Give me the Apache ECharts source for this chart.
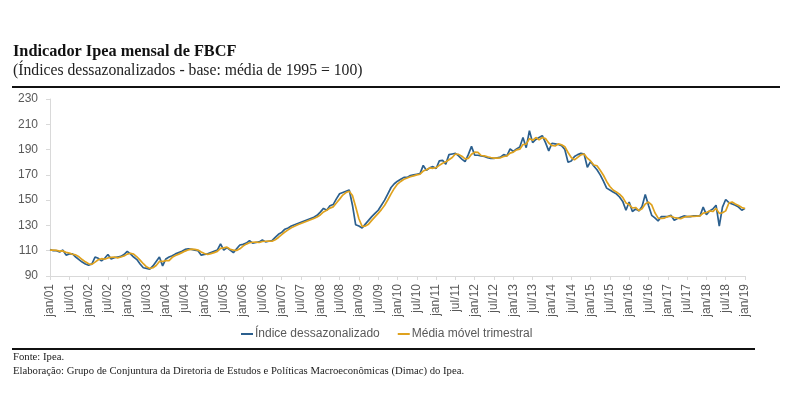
<!DOCTYPE html>
<html>
<head>
<meta charset="utf-8">
<script src="https://cdn.jsdelivr.net/npm/echarts@6/dist/echarts.min.js"></script>
<style>
html,body{margin:0;padding:0;background:#fff;}
#c{width:785px;height:395px;}
</style>
</head>
<body>
<div id="c"></div>
<script>
const monthNames = ['jan','fev','mar','abr','mai','jun','jul','ago','set','out','nov','dez'];
const years = ['01','02','03','04','05','06','07','08','09','10','11','12','13','14','15','16','17','18','19'];
const categories = [];
years.forEach(function(y, yi){
  monthNames.forEach(function(m, mi){
    if (yi === years.length - 1 && mi > 0) return;
    categories.push(m + '/' + y);
  });
});
const yTicks = [90, 110, 130, 150, 170, 190, 210, 230];

const indiceDessaz = [
111,110,110,109,110.5,106.5,107.5,107.5,105,103,101,99.5,
98.5,99.5,105,104,102,104,107,103.5,104.5,105,105.5,107,
109.5,107.5,105,103,99.5,96.5,96,95.5,98,101.5,105,98,
103.5,105,106,107.5,108.5,109.5,111,111.5,111,110.5,110,106.5,
107,107.5,108.5,109.5,110.5,115.5,110.5,112.5,110.5,108.5,111.5,114.5,
115,116,118,116,116.5,117,118.5,117,117.5,118,120.5,123,
124.5,127,128,129.5,130.5,131.5,132.5,133.5,134.5,135.5,136.5,138,
140.5,143.5,142,145.5,146.5,151,155,156,157,158,146,130.5,
129.5,128,131,134,137,139.5,142,146,150,155,160,163,
165,166.5,168,168,169.5,170,170.5,171,177.5,173.5,175.5,176.5,
175,181,181.5,178.5,186,186.5,187,185,182.5,180.5,186,192.5,
185.5,185.5,185,184.5,183.5,183,183,183.5,184,186,185,190.5,
188.5,190.5,192,199.5,191.5,205,195.5,198,199.5,201,195.5,189,
195,194.5,194,193,190,180,181,184.5,186,187,186.5,176,
180.5,177,174,170,165,159.5,158,156.5,155,152.5,149,142,
148.5,141,143,141.5,145,154.5,146,138,136,133.5,137,137,
137,138,134,135.5,136.5,137.5,137,137,137.5,137.5,137.5,144.5,
138.5,141.5,143,146,129.5,144.5,150.5,148,147,146,144.5,142,
143.5
];

const mediaMovel = [
110.5,110.5,110.3,109.7,109.8,108.7,108.2,107.2,106.7,105.2,103,101.2,
99.7,99.2,101,102.8,103.7,103.3,104.3,104.8,105,104.3,105,105.8,
107.3,108,107.3,105.2,102.5,99.7,97.3,96,96.5,98.3,101.5,101.5,
102.2,102.2,104.8,106.2,107.3,108.5,109.7,110.7,111.2,111,110.5,109,
107.8,107,107.7,108.5,109.5,111.8,112.2,112.8,111.2,110.5,110.2,111.5,
113.7,115.2,116.3,116.7,116.8,116.5,117.3,117.5,117.7,117.5,118.7,120.5,
122.7,124.8,126.5,128.2,129.3,130.5,131.5,132.5,133.5,134.5,135.5,136.7,
138.3,140.7,142,143.7,144.7,147.7,150.8,154,156,157,153.7,144.8,
135.3,129.3,129.5,131,134,136.8,139.5,142.5,146,150.3,155,159.3,
162.7,164.8,166.5,167.5,168.5,169.2,170,170.5,173,174,175.5,175.2,
175.7,177.5,179.2,180.3,182,183.7,186.5,186.2,184.8,182.7,183,186.3,
188,187.8,185.3,185,184.3,183.7,183.2,183.2,183.5,184.5,185,187.2,
188,189.8,190.3,194,194.3,198.7,197.3,199.5,197.7,199.5,198.7,195.2,
193.2,192.8,194.5,193.8,192.3,187.7,183.7,181.8,183.8,185.8,186.5,183.2,
181,177.8,177.2,173.7,169.7,164.8,160.8,158,156.5,154.7,152.2,147.8,
146.5,143.8,144.2,141.8,143.2,147,148.5,146.2,140,135.8,135.5,135.8,
137,137.3,136.3,135.8,135.3,136.5,137,137.2,137.2,137.3,137.5,139.8,
140.2,141.5,141,143.5,139.5,140,141.5,147.7,148.5,147,145.8,144.2,
143.3
];

const chart = echarts.init(document.getElementById('c'), null, {renderer:'canvas'});
const serif = '"Liberation Serif", "DejaVu Serif", serif';
const sans = '"Liberation Sans", Arial, sans-serif';
chart.setOption({
  animation: false,
  backgroundColor: '#ffffff',
  grid: {left: 50, right: 40, top: 99, bottom: 119, containLabel: false},
  xAxis: {
    type: 'category',
    data: categories,
    boundaryGap: false,
    axisLine: {show: true, lineStyle: {color: '#d9d9d9', width: 1}},
    axisTick: {show: true, interval: 5, length: 4, lineStyle: {color: '#d9d9d9'}},
    axisLabel: {interval: 5, rotate: 90, color: '#595959', fontFamily: sans, fontSize: 12, margin: 8},
    splitLine: {show: false}
  },
  yAxis: {
    type: 'value',
    min: yTicks[0],
    max: yTicks[yTicks.length - 1],
    interval: 20,
    axisLine: {show: true, lineStyle: {color: '#d9d9d9', width: 1}},
    axisTick: {show: true, length: 4, lineStyle: {color: '#d9d9d9'}},
    axisLabel: {color: '#595959', fontFamily: sans, fontSize: 12, margin: 12},
    splitLine: {show: false}
  },
  legend: {
    data: ['Índice dessazonalizado', 'Média móvel trimestral'],
    left: 236,
    top: 323,
    itemWidth: 12,
    itemHeight: 2,
    itemGap: 18,
    icon: 'rect',
    textStyle: {color: '#595959', fontFamily: sans, fontSize: 12, padding: [0, 0, 0, -3]}
  },
  series: [
    {
      name: 'Índice dessazonalizado',
      type: 'line',
      data: indiceDessaz,
      symbol: 'none',
      lineStyle: {color: '#2b5f8e', width: 1.7},
      itemStyle: {color: '#2b5f8e'}
    },
    {
      name: 'Média móvel trimestral',
      type: 'line',
      data: mediaMovel,
      symbol: 'none',
      lineStyle: {color: '#dfa21e', width: 1.7},
      itemStyle: {color: '#dfa21e'}
    }
  ],
  graphic: [
    {type: 'text', left: 13, top: 44, style: {text: 'Indicador Ipea mensal de FBCF', font: 'bold 16.3px ' + serif, fill: '#111'}},
    {type: 'text', left: 13, top: 63, style: {text: '(Índices dessazonalizados - base: média de 1995 = 100)', font: '15.7px ' + serif, fill: '#222'}},
    {type: 'rect', shape: {x: 12, y: 86, width: 768, height: 2}, style: {fill: '#111'}},
    {type: 'rect', shape: {x: 12, y: 348, width: 743, height: 2}, style: {fill: '#111'}},
    {type: 'text', left: 13, top: 352, style: {text: 'Fonte: Ipea.', font: '10.7px ' + serif, fill: '#222'}},
    {type: 'text', left: 13, top: 366, style: {text: 'Elaboração: Grupo de Conjuntura da Diretoria de Estudos e Políticas Macroeconômicas (Dimac) do Ipea.', font: '10.7px ' + serif, fill: '#222'}}
  ]
});
</script>
</body>
</html>
